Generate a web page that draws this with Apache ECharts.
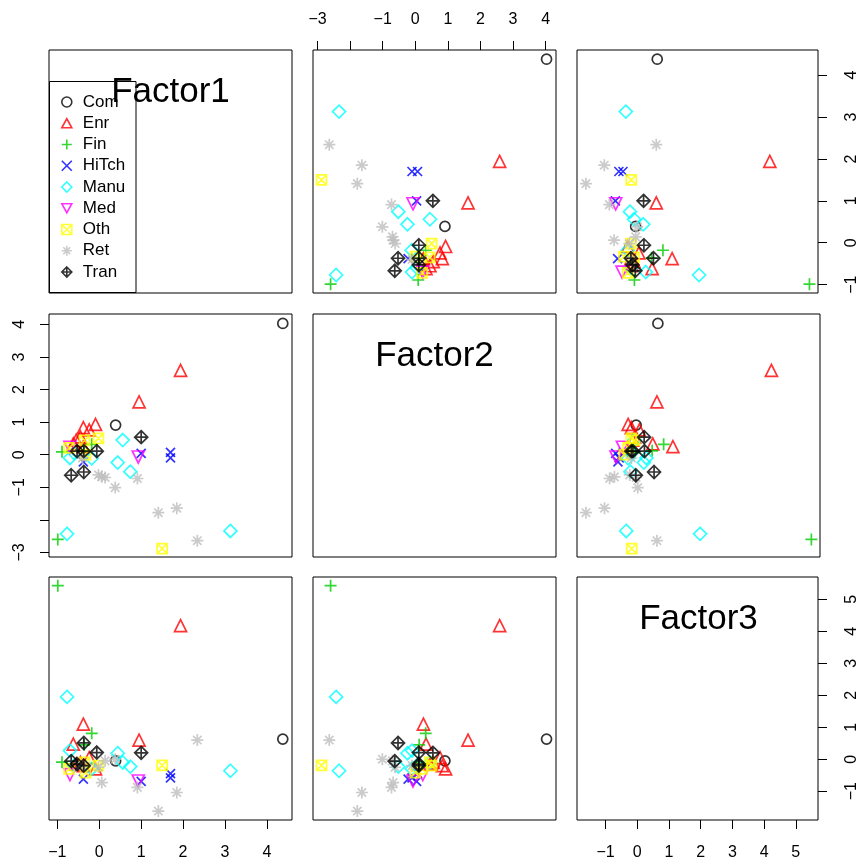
<!DOCTYPE html>
<html>
<head>
<meta charset="utf-8">
<script src="https://cdn.jsdelivr.net/npm/echarts@6/dist/echarts.min.js"></script>
<style>
html, body { margin: 0; background: #fff; }
#chart { width: 860px; height: 862px; }
</style>
</head>
<body>
<div id="chart"></div>
<script>
// factor scores per sector, each row is [Factor1, Factor2, Factor3]
const groups = ['Com', 'Enr', 'Fin', 'HiTch', 'Manu', 'Med', 'Oth', 'Ret', 'Tran']
const com = [[4.38, 4.03, 0.63], [0.39, 0.91, -0.05]]
const enr = [[1.94, 2.59, 4.18], [0.95, 1.62, 0.60], [-0.38, 0.25, 1.10], [-0.62, 0.33, 0.47],
  [-0.09, 0.93, -0.30], [-0.38, 0.83, -0.20], [-0.24, 0.76, 0.05], [-0.55, 0.45, -0.15], [-0.45, 0.55, -0.10]]
const fin = [[-0.99, -2.60, 5.43], [-0.18, 0.32, 0.81], [-0.36, 0.12, 0.45], [-0.89, 0.09, -0.09]]
const hitch = [[1.70, 0.07, -0.45], [1.70, -0.10, -0.58], [1.00, 0.04, -0.69], [-0.38, -0.22, -0.62]]
const manu = [[-0.77, -2.43, 1.95], [3.13, -2.34, -0.36], [0.56, 0.45, -0.10], [0.44, -0.24, 0.19],
  [0.74, -0.52, -0.23], [-0.70, -0.10, 0.27], [-0.18, -0.11, -0.30], [-0.60, 0.05, -0.20]]
const med = [[0.93, -0.07, -0.68], [-0.70, 0.23, -0.48]]
const oth = [[1.50, -2.88, -0.19], [-0.02, 0.50, -0.20], [-0.35, 0.44, -0.10], [-0.72, 0.21, -0.30], [-0.33, 0.00, -0.42]]
const ret = [[2.34, -2.64, 0.60], [1.85, -1.64, -1.04], [1.41, -1.78, -1.62], [0.91, -0.73, -0.88], [0.38, -1.01, 0.00],
  [0.06, -0.68, -0.73], [-0.02, -0.62, -0.25], [0.14, -0.70, -0.05], [-0.40, -0.10, -0.20]]
const tran = [[1.00, 0.54, 0.20], [-0.06, 0.11, 0.21], [-0.37, -0.53, 0.51], [-0.67, -0.63, -0.06],
  [-0.37, 0.11, -0.20], [-0.53, 0.11, -0.15]]
const groupData = [com, enr, fin, hitch, manu, med, oth, ret, tran]

const factorNames = ['Factor1', 'Factor2', 'Factor3']
const f1Ticks = [-1, 0, 1, 2, 3, 4]
const f2Ticks = [-3, -2, -1, 0, 1, 2, 3, 4]
const f2Labels = [-3, -1, 0, 1, 2, 3, 4]
const f3Ticks = [-1, 0, 1, 2, 3, 4, 5]

const FONT = '"Liberation Sans", Arial, sans-serif'
const ranges = [[-1.2, 4.6], [-3.14, 4.32], [-1.9, 5.7]]
const ticks = [f1Ticks, f2Ticks, f3Ticks]
const labels = [f1Ticks, f2Labels, f3Ticks]

const colors = ['#000000', '#FF0000', '#00CD00', '#0000FF', '#00FFFF', '#FF00FF', '#FFFF00', '#BEBEBE', '#000000']
const symbols = [
  'circle',
  'path://M5,0L10,9L0,9Z',
  'path://M5,0L5,10M0,5L10,5',
  'path://M0,0L10,10M0,10L10,0',
  'diamond',
  'path://M0,0L10,0L5,9Z',
  'path://M0,0L10,0L10,10L0,10ZM0,0L10,10M0,10L10,0',
  'path://M5,0L5,10M0,5L10,5M1.5,1.5L8.5,8.5M1.5,8.5L8.5,1.5',
  'path://M5,0L10,5L5,10L0,5ZM5,0L5,10M0,5L10,5'
]
const sizes = [10, 12, 12, 9, 13, 12, 10, 12, 13]

const cellLeft = [49, 313, 577]
const cellTop = [50, 314, 577]
const SIZE = 243

const fmt = v => (v < 0 ? '\u2212' + Math.abs(v) : String(v))

const grids = [], xAxes = [], yAxes = [], series = []

function makeAxis(k, f, position, show, margin) {
  const vertical = position === 'left' || position === 'right'
  return {
    type: 'value',
    gridIndex: k,
    min: ranges[f][0],
    max: ranges[f][1],
    position: position,
    axisLine: { show: false, onZero: false },
    splitLine: { show: false },
    axisTick: { show: show, length: 9, customValues: ticks[f], lineStyle: { color: '#000', width: 1 } },
    axisLabel: {
      show: show,
      customValues: labels[f],
      formatter: fmt,
      rotate: vertical ? 90 : 0,
      margin: margin,
      fontSize: 16,
      fontFamily: FONT,
      color: '#000'
    }
  }
}

for (let i = 0; i < 3; i++) {
  for (let j = 0; j < 3; j++) {
    const k = i * 3 + j
    grids.push({
      left: cellLeft[j], top: cellTop[i], width: SIZE, height: SIZE,
      show: true, borderColor: '#000', borderWidth: 1, backgroundColor: 'transparent'
    })
    // R pairs: alternating axes sides
    const xTop = i === 0 && j === 1
    const xBottom = i === 2 && (j === 0 || j === 2)
    const yLeft = i === 1 && j === 0
    const yRight = (i === 0 && j === 2) || (i === 2 && j === 2)
    xAxes.push(makeAxis(k, j, xTop ? 'top' : 'bottom', xTop || xBottom, xTop ? 22 : 25))
    yAxes.push(makeAxis(k, i, yLeft ? 'left' : 'right', yLeft || yRight, yLeft ? 21 : 26))
    if (i === j) continue
    groups.forEach((g, gi) => {
      series.push({
        type: 'scatter',
        name: g,
        xAxisIndex: k,
        yAxisIndex: k,
        data: groupData[gi].map(p => [p[j], p[i]]),
        symbol: symbols[gi],
        symbolSize: sizes[gi],
        itemStyle: { color: 'rgba(0,0,0,0)', borderColor: colors[gi], borderWidth: 1.7 },
        silent: true,
        animation: false
      })
    })
  }
}

const chart = echarts.init(document.getElementById('chart'))
chart.setOption({
  backgroundColor: '#fff',
  animation: false,
  grid: grids,
  xAxis: xAxes,
  yAxis: yAxes,
  series: series,
  legend: {
    data: groups,
    orient: 'vertical',
    left: 61,
    top: 93.5,
    padding: 0,
    itemWidth: 10,
    itemHeight: 10,
    itemGap: 4.25,
    selectedMode: false,
    itemStyle: { borderWidth: 1.6 },
    textStyle: { fontSize: 17, lineHeight: 17, fontFamily: FONT, color: '#000', padding: [0, 0, 0, 6] }
  },
  graphic: [
    {
      type: 'rect',
      shape: { x: 49.5, y: 81.5, width: 86.5, height: 211 },
      style: { fill: 'none', stroke: '#000', lineWidth: 1 },
      z: 1
    }
  ].concat(factorNames.map((name, d) => ({
    type: 'text',
    x: cellLeft[d] + SIZE / 2,
    y: cellTop[d] + 42,
    style: { text: name, fontSize: 35, fontFamily: FONT, fill: '#000', align: 'center', verticalAlign: 'middle' },
    z: 10
  })))
})
</script>
</body>
</html>
